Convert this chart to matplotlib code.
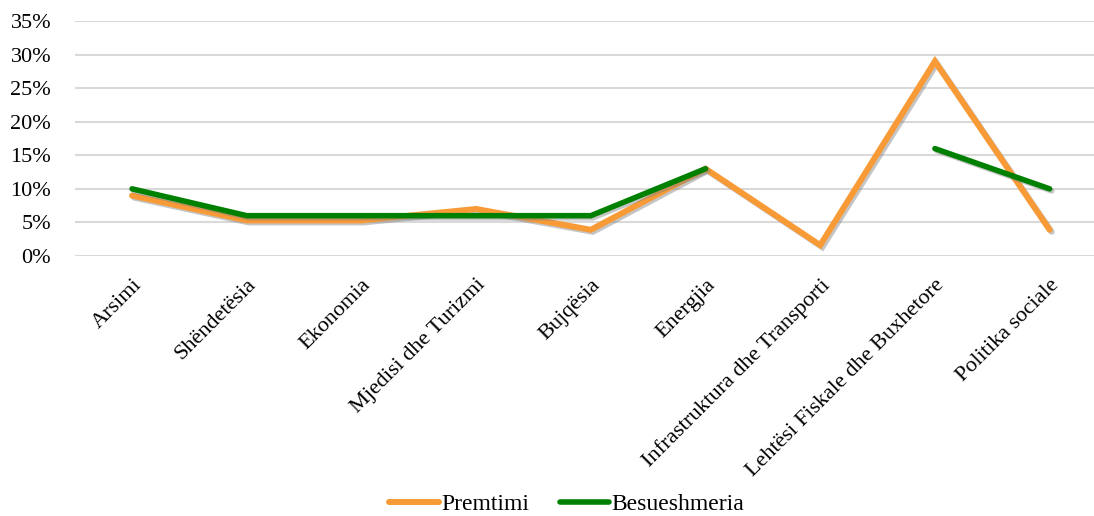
import matplotlib.pyplot as plt
import matplotlib.patheffects as pe
import numpy as np

categories = ['Arsimi', 'Shëndetësia', 'Ekonomia', 'Mjedisi dhe Turizmi', 'Bujqësia',
              'Energjia', 'Infrastruktura dhe Transporti', 'Lehtësi Fiskale dhe Buxhetore',
              'Politika sociale']
premtimi = [0.09, 0.053, 0.053, 0.07, 0.039, 0.13, 0.016, 0.29, 0.039]
besueshmeria = [0.10, 0.06, 0.06, 0.06, 0.06, 0.13, np.nan, 0.16, 0.10]
yticks = [0, 0.05, 0.10, 0.15, 0.20, 0.25, 0.30, 0.35]

plt.rcParams['font.family'] = ['Liberation Serif', 'DejaVu Serif']

fig = plt.figure(figsize=(10.94, 5.16), dpi=100)
ax = fig.add_axes([0.0683, 0.504, 0.9317, 0.455])

x = np.arange(len(categories))
shadow = [pe.SimpleLineShadow(offset=(1.5, -1.5), shadow_color='#808080', alpha=0.45), pe.Normal()]
ax.plot(x, premtimi, color='#F89A36', lw=4.3, solid_capstyle='round', solid_joinstyle='miter',
        label='Premtimi', path_effects=shadow)
ax.plot(x, besueshmeria, color='#008000', lw=4.0, solid_capstyle='round', solid_joinstyle='miter',
        label='Besueshmeria', path_effects=shadow)

ax.set_xlim(-0.5, 8.387)
ax.set_ylim(0, 0.35)
ax.set_yticks(yticks)
ax.set_yticklabels(['%d%%' % round(v * 100) for v in yticks], fontsize=16)
ax.set_xticks(x)
ax.set_xticklabels(categories, fontsize=16, rotation=45, ha='right', va='top', rotation_mode='anchor')
ax.tick_params(length=0)
ax.tick_params(axis='y', pad=17)
ax.tick_params(axis='x', pad=14)
ax.grid(axis='y', color='#d9d9d9', lw=1.5)
ax.set_axisbelow(True)
for s in ax.spines.values():
    s.set_visible(False)

leg = fig.legend(loc='lower center', bbox_to_anchor=(0.518, -0.04), ncol=2, frameon=False,
                 fontsize=17, handlelength=2.1, handletextpad=0.1, columnspacing=1.3)
for h in leg.get_lines():
    h.set_path_effects([])

fig.savefig('out.png', dpi=100)
